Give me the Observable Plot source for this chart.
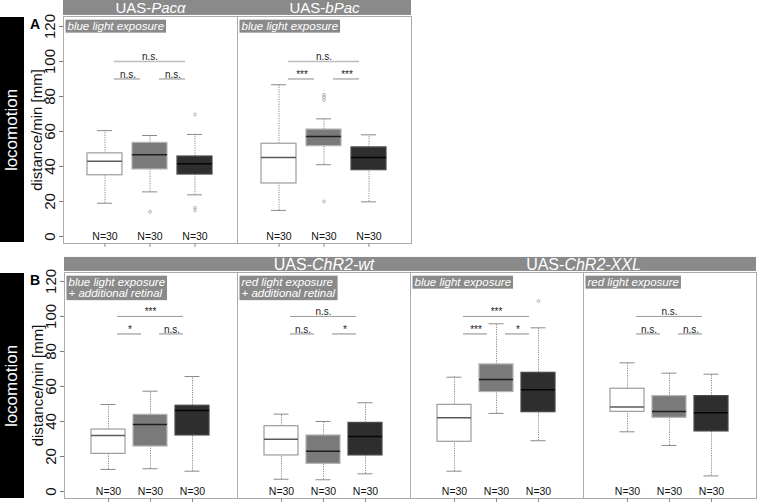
<!DOCTYPE html>
<html><head><meta charset="utf-8">
<script src="https://cdn.jsdelivr.net/npm/d3@7"></script>
<script src="https://cdn.jsdelivr.net/npm/@observablehq/plot@0.6"></script>
<style>
body{margin:0;background:#fff;font-family:"Liberation Sans",Arial,sans-serif;}
#wrap{position:relative;width:760px;height:504px;overflow:hidden;background:#fff;}
.side{position:absolute;left:0;width:24px;background:#000;z-index:2;}
.side span{position:absolute;left:50%;top:50%;transform:translate(-50%,-50%) rotate(-90deg);color:#fff;font-size:17px;white-space:nowrap;}
.letter{position:absolute;left:30px;font-weight:bold;font-size:14px;z-index:2;line-height:1;}
#top{position:absolute;left:0;top:0;}
#bottom{position:absolute;left:0;top:251px;}
</style></head>
<body><div id="wrap">
<div class="side" style="top:17px;height:225px"><span>locomotion</span></div>
<div class="side" style="top:273px;height:225px"><span>locomotion</span></div>
<div class="letter" style="top:17px">A</div>
<div class="letter" style="top:273px">B</div>
<div id="top"></div><div id="bottom"></div>
</div>
<script>
// ---------- data ----------
const groups = ["1", "2", "3"];
const sampleSizes = [30, 30, 30];
const yTicks = [0, 20, 40, 60, 80, 100, 120];

// row A
const topPanels = ["Pacα", "bPac"];
const topStrains = ["UAS-Pacα", "UAS-bPac"];
const topConditions = ["blue light exposure", "blue light exposure"];
// [lower whisker, q1, median, q3, upper whisker] per box, panel by panel
const topStats = [
  [19.0, 35.0, 43.0, 47.5, 60.5], [25.5, 38.3, 46.7, 53.5, 57.7], [23.8, 35.4, 41.5, 45.7, 58.3],
  [14.9, 30.3, 45.1, 53.0, 86.7], [41.0, 51.6, 57.1, 61.1, 67.2], [19.8, 37.9, 45.1, 50.9, 58.1]
];
const topOutliers = [[], [14.1], [69.7, 16.4, 14.9], [], [81.0, 79.6, 78.1, 20.0], []];
// [1 vs 3, 1 vs 2, 2 vs 3]
const topSig = [["n.s.", "n.s.", "n.s."], ["n.s.", "***", "***"]];

// row B
const bottomPanels = ["wt-blue", "wt-red", "xxl-blue", "xxl-red"];
const bottomStrains = ["UAS-ChR2-wt", "UAS-ChR2-XXL"];
const bottomConditions = ["blue light exposure\n+ additional retinal", "red light exposure\n+ additional retinal", "blue light exposure", "red light exposure"];
const bottomStats = [
  [12.6, 21.5, 32.0, 35.4, 49.7], [13.0, 25.7, 38.3, 43.8, 57.3], [11.6, 32.0, 46.3, 49.0, 65.7],
  [7.0, 20.6, 29.9, 37.3, 44.2], [6.7, 15.8, 23.0, 32.0, 40.0], [10.1, 20.6, 31.4, 39.2, 50.7],
  [11.6, 28.4, 42.1, 49.5, 65.3], [44.6, 56.8, 64.0, 72.6, 95.8], [29.0, 45.3, 58.1, 67.8, 93.5],
  [34.1, 45.5, 48.2, 58.7, 73.5], [26.3, 42.1, 45.7, 54.5, 67.6], [8.9, 34.3, 45.0, 54.5, 67.0]
];
const bottomOutliers = [[], [], [], [], [], [], [], [], [108.8], [], [], []];
const bottomSig = [["***", "*", "n.s."], ["n.s.", "n.s.", "*"], ["***", "***", "*"], ["n.s.", "n.s.", "n.s."]];

// ---------- style ----------
const boxFill = ["#ffffff", "#7a7a7a", "#2e2e2e"];
const boxStroke = ["#9c9c9c", "#b4b4b4", "#4a4a4a"];
const medianStroke = ["#5a5a5a", "#1e1e1e", "#050505"];
const FONT = "Liberation Sans, Arial, sans-serif";

function makeRow(cfg) {
  const {panels, stats, outliers, sig, conditions, titles, width, height, marginTop, marginBottom,
         yDomain, band, step, bw, capInset, bracketInset} = cfg;
  const boxes = [], outl = [], brackets = [];
  panels.forEach((p, i) => {
    groups.forEach((g, j) => {
      const [lo, q1, med, q3, hi] = stats[i * 3 + j];
      boxes.push({panel: p, group: g, j, lo, q1, med, q3, hi, n: sampleSizes[j]});
      outliers[i * 3 + j].forEach(v => outl.push({panel: p, group: g, v}));
    });
    const [s13, s12, s23] = sig[i];
    brackets.push({panel: p, from: "1", to: "3", mid: "2", y: 100, label: s13, long: true});
    brackets.push({panel: p, from: "1", to: "2", y: 90, label: s12, long: false});
    brackets.push({panel: p, from: "2", to: "3", y: 90, label: s23, long: false});
  });
  const panelRows = panels.map((p, i) => ({panel: p, cond: conditions[i]}));
  const bandMid = (band[0] + band[1]) / 2;
  const pad = (step - bw) / step;
  const outer = ((width - cfg.marginLeft - cfg.marginRight) / panels.length / step - (3 - pad)) / 2;
  const anchors = [...new Set(titles.map(t => t.anchor))];

  const chart = Plot.plot({
    width, height, marginLeft: cfg.marginLeft, marginRight: cfg.marginRight, marginTop, marginBottom,
    style: {fontFamily: FONT, fontSize: "10px", color: "#111", background: "transparent", overflow: "visible"},
    fx: {domain: panels, padding: 0, axis: null},
    x: {domain: groups, paddingInner: pad, paddingOuter: outer},
    y: {domain: yDomain},
    color: {type: "identity"},
    marks: [
      Plot.barY(panelRows, {fx: "panel", y1: () => band[0], y2: () => band[1], fill: "#8a8a8a"}),
      Plot.frame({stroke: "#ababab"}),
      Plot.axisY({ticks: yTicks, tickRotate: -90, tickSize: 4, stroke: "#777", fontSize: 15,
                  label: "distance/min [mm]", labelAnchor: "center", labelOffset: 32, labelArrow: "none"}),
      Plot.axisX({tickSize: 4, tickFormat: () => "", stroke: "#888", label: null}),
      ...anchors.map(a => Plot.text(titles.filter(t => t.anchor === a), {fx: "panel", text: "text", y: () => bandMid,
                frameAnchor: a, textAnchor: "middle", fill: "white", fontSize: cfg.titleSize, ariaDescription: "strain"})),
      Plot.text(panelRows, {fx: "panel", text: "cond", frameAnchor: "top-left", dx: 4, dy: cfg.condDy,
                fill: "white", fontStyle: "italic", fontSize: 11.5, lineHeight: 1.0, ariaDescription: "subtitle"}),
      // whiskers
      Plot.ruleX(boxes, {fx: "panel", x: "group", y1: "lo", y2: "q1", stroke: "#8a8a8a", strokeDasharray: "1.2,1.2"}),
      Plot.ruleX(boxes, {fx: "panel", x: "group", y1: "q3", y2: "hi", stroke: "#8a8a8a", strokeDasharray: "1.2,1.2"}),
      Plot.tickY(boxes, {fx: "panel", x: "group", y: "lo", stroke: "#8a8a8a", insetLeft: capInset, insetRight: capInset}),
      Plot.tickY(boxes, {fx: "panel", x: "group", y: "hi", stroke: "#8a8a8a", insetLeft: capInset, insetRight: capInset}),
      // boxes
      Plot.barY(boxes, {fx: "panel", x: "group", y1: "q1", y2: "q3", fill: d => boxFill[d.j], stroke: d => boxStroke[d.j], strokeWidth: 1.2}),
      Plot.tickY(boxes, {fx: "panel", x: "group", y: "med", stroke: d => medianStroke[d.j], strokeWidth: 1.5}),
      Plot.dot(outl, {fx: "panel", x: "group", y: "v", r: 1.4, stroke: "#a0a0a0", strokeWidth: 0.8}),
      // significance brackets
      Plot.ruleY(brackets.filter(d => d.long), {fx: "panel", x1: "from", x2: "to", y: "y", stroke: cfg.longStroke, strokeWidth: cfg.longWidth,
                insetLeft: bracketInset, insetRight: bracketInset}),
      Plot.ruleY(brackets.filter(d => !d.long), {fx: "panel", x1: "from", x2: "to", y: "y", stroke: "#8a8a8a",
                insetLeft: bracketInset, insetRight: bracketInset}),
      Plot.text(brackets.filter(d => d.long), {fx: "panel", x: "mid", y: "y", text: "label", lineAnchor: "bottom", dy: -1, fontSize: 10, fill: "#222"}),
      Plot.text(brackets.filter(d => !d.long), {fx: "panel", x: "from", y: "y", text: "label", dx: step / 2, lineAnchor: "bottom", dy: -1, fontSize: 10, fill: "#222"}),
      // sample sizes
      Plot.text(boxes, {fx: "panel", x: "group", y: () => 0, text: d => "N=" + d.n, fontSize: 10.5, fill: "#111"})
    ]
  });
  return chart;
}

function decorate(svg) {
  svg.querySelectorAll('g[aria-description="subtitle"] text').forEach(t => {
    const b = t.getBBox();
    const r = document.createElementNS("http://www.w3.org/2000/svg", "rect");
    r.setAttribute("x", b.x - 2); r.setAttribute("y", b.y);
    r.setAttribute("width", b.width + 4); r.setAttribute("height", b.height + 1);
    r.setAttribute("fill", "#8a8a8a");
    if (t.getAttribute("transform")) r.setAttribute("transform", t.getAttribute("transform"));
    t.parentNode.insertBefore(r, t);
  });
  svg.querySelectorAll('g[aria-description="strain"] text').forEach(t => {
    const s = t.textContent; const k = s.indexOf("-") + 1;
    t.textContent = s.slice(0, k);
    const ts = document.createElementNS("http://www.w3.org/2000/svg", "tspan");
    ts.setAttribute("font-style", "italic"); ts.textContent = s.slice(k);
    t.appendChild(ts);
  });
}

const topChart = makeRow({
  panels: topPanels, stats: topStats, outliers: topOutliers, sig: topSig, conditions: topConditions,
  titles: topPanels.map((p, i) => ({panel: p, text: topStrains[i], anchor: "middle"})),
  width: 412, height: 251, marginLeft: 62, marginRight: 1, marginTop: 16, marginBottom: 8,
  yDomain: [-4, 125.7], band: [126.3, 134.9], step: 46, bw: 36, capInset: 10, bracketInset: 27,
  condDy: 5, longStroke: "#bdbdbd", longWidth: 1.6, titleSize: 15
});
document.getElementById("top").appendChild(topChart);
decorate(topChart);

const bottomChart = makeRow({
  panels: bottomPanels, stats: bottomStats, outliers: bottomOutliers, sig: bottomSig, conditions: bottomConditions,
  titles: [{panel: bottomPanels[1], text: bottomStrains[0], anchor: "middle"},
           {panel: bottomPanels[2], text: bottomStrains[1], anchor: "right"}],
  width: 760, height: 253, marginLeft: 62, marginRight: 3, marginTop: 21, marginBottom: 6,
  yDomain: [-4, 125.1], band: [125.7, 133.7], step: 43, bw: 35, capInset: 9.5, bracketInset: 26,
  condDy: 5, longStroke: "#9a9a9a", longWidth: 1, titleSize: 16
});
document.getElementById("bottom").appendChild(bottomChart);
decorate(bottomChart);
</script>
</body></html>
